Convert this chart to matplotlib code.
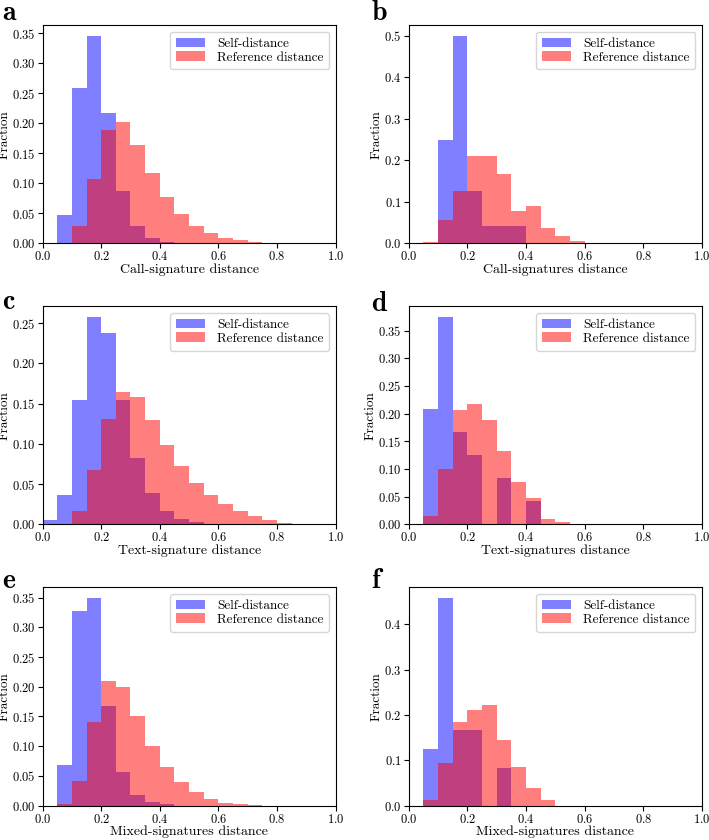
import numpy as np
import matplotlib
matplotlib.use('Agg')
import matplotlib.pyplot as plt
from matplotlib.ticker import MultipleLocator

plt.rcParams['font.family'] = 'serif'
plt.rcParams['font.serif'] = ['cmr10']
plt.rcParams['mathtext.fontset'] = 'cm'
plt.rcParams['axes.formatter.use_mathtext'] = True

# bins of width 0.05 from 0 to 1
bin_edges = np.round(np.arange(0, 1.0001, 0.05), 2)

# fraction per bin (20 bins each)
call_self = [0, 0.047, 0.259, 0.346, 0.217, 0.087, 0.029, 0.009, 0.003, 0.001,
             0, 0, 0, 0, 0, 0, 0, 0, 0, 0]
call_ref = [0, 0.001, 0.029, 0.107, 0.189, 0.202, 0.164, 0.117, 0.078, 0.049,
            0.029, 0.017, 0.009, 0.005, 0.003, 0.0015, 0.0005, 0, 0, 0]
calls_self = [0, 0, 0.25, 0.5, 0.125, 0.0417, 0.0417, 0.0417, 0, 0,
              0, 0, 0, 0, 0, 0, 0, 0, 0, 0]
calls_ref = [0, 0.003, 0.057, 0.125, 0.211, 0.211, 0.168, 0.078, 0.089, 0.036,
             0.017, 0.006, 0, 0, 0, 0, 0, 0, 0, 0]
text_self = [0.006, 0.036, 0.155, 0.258, 0.238, 0.155, 0.083, 0.039, 0.017, 0.007,
             0.003, 0.001, 0, 0, 0, 0, 0, 0, 0, 0]
text_ref = [0, 0.0005, 0.017, 0.068, 0.131, 0.165, 0.158, 0.130, 0.099, 0.072,
            0.052, 0.036, 0.026, 0.017, 0.011, 0.006, 0.002, 0.0008, 0, 0]
texts_self = [0, 0.2083, 0.375, 0.1667, 0.125, 0, 0.0833, 0, 0.0417, 0,
              0, 0, 0, 0, 0, 0, 0, 0, 0, 0]
texts_ref = [0, 0.016, 0.101, 0.206, 0.218, 0.188, 0.133, 0.077, 0.047, 0.010,
             0.005, 0, 0, 0, 0, 0, 0, 0, 0, 0]
mixed_self = [0, 0.068, 0.328, 0.350, 0.168, 0.056, 0.018, 0.006, 0.002, 0,
              0, 0, 0, 0, 0, 0, 0, 0, 0, 0]
mixed_ref = [0, 0.002, 0.041, 0.140, 0.210, 0.199, 0.151, 0.101, 0.065, 0.039,
             0.022, 0.011, 0.005, 0.002, 0.001, 0, 0, 0, 0, 0]
mixeds_self = [0, 0.125, 0.4583, 0.1667, 0.1667, 0, 0.0833, 0, 0, 0,
               0, 0, 0, 0, 0, 0, 0, 0, 0, 0]
mixeds_ref = [0, 0.012, 0.093, 0.185, 0.210, 0.221, 0.145, 0.084, 0.038, 0.012,
              0, 0, 0, 0, 0, 0, 0, 0, 0, 0]

panel_letters = ['a', 'b', 'c', 'd', 'e', 'f']
x_labels = ['Call-signature distance', 'Call-signatures distance',
            'Text-signature distance', 'Text-signatures distance',
            'Mixed-signatures distance', 'Mixed-signatures distance']
y_steps = [0.05, 0.1, 0.05, 0.05, 0.05, 0.1]
self_data = [call_self, calls_self, text_self, texts_self, mixed_self, mixeds_self]
ref_data = [call_ref, calls_ref, text_ref, texts_ref, mixed_ref, mixeds_ref]

# letter positions in figure pixels (x left, y baseline from top)
letter_pos = [(2, 20), (372, 20), (2, 309), (371, 311), (2, 588), (371, 588)]


def main():
    W, H = 709, 840
    fig, axes = plt.subplots(3, 2, figsize=(W / 100, H / 100), dpi=100)
    fig.subplots_adjust(left=0.060, right=0.990, bottom=0.041, top=0.970,
                        wspace=0.249, hspace=0.288)
    centers = bin_edges[:-1] + 0.025
    for i, ax in enumerate(axes.flat):
        ax.hist(centers, bins=bin_edges, weights=self_data[i], color='b',
                alpha=0.5, label='Self-distance')
        ax.hist(centers, bins=bin_edges, weights=ref_data[i], color='r',
                alpha=0.5, label='Reference distance')
        ax.set_xlim(0, 1)
        ax.set_xticks([0.0, 0.2, 0.4, 0.6, 0.8, 1.0])
        ax.yaxis.set_major_locator(MultipleLocator(y_steps[i]))
        ax.set_xlabel(x_labels[i], fontsize=10, labelpad=0)
        ax.set_ylabel('Fraction', fontsize=9.5, labelpad=1)
        ax.tick_params(labelsize=9, pad=1.5)
        ax.legend(loc='upper right', fontsize=9.5, labelspacing=0.1,
                  handlelength=2.2, handletextpad=0.9, borderpad=0.45)
        px, py = letter_pos[i]
        fig.text(px / W, 1 - py / H, panel_letters[i], fontsize=20,
                 family='cmb10', ha='left', va='baseline')
    fig.savefig('out.png', dpi=100)


if __name__ == '__main__':
    main()
